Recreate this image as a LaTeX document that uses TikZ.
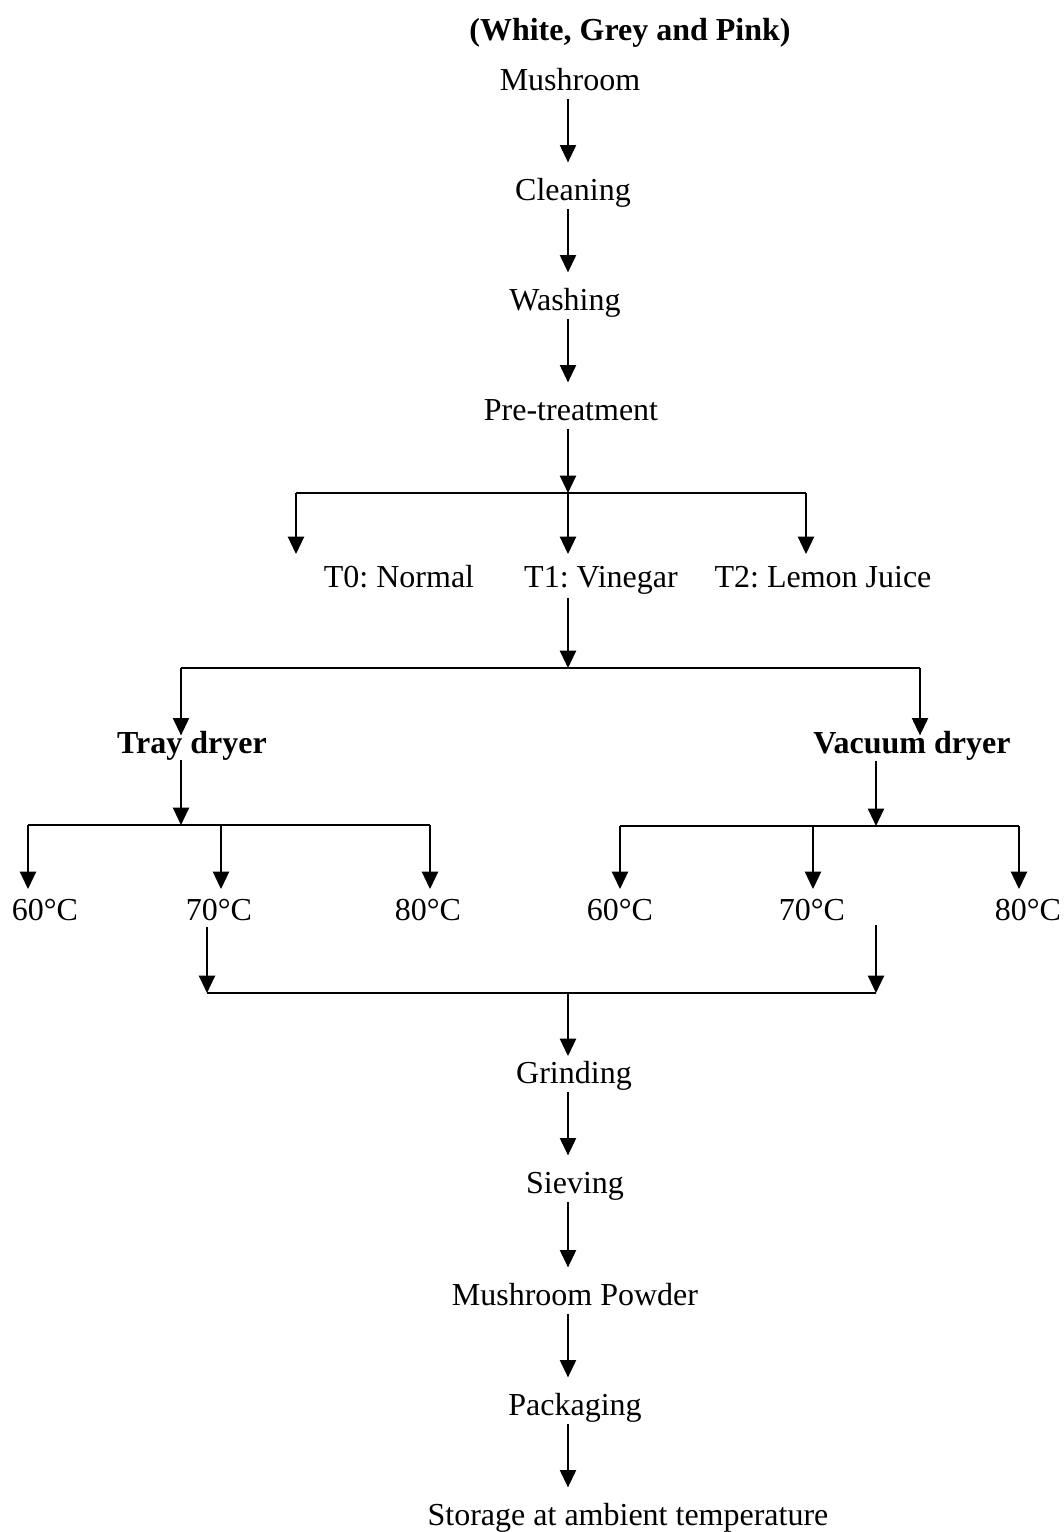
\documentclass[tikz,border=0pt]{standalone}
\usepackage{fontspec}
\setmainfont{Liberation Serif}
\usetikzlibrary{arrows.meta}
\frenchspacing
\begin{document}
\begin{tikzpicture}[x=0.75pt,y=-0.75pt,
  lbl/.style={anchor=base,inner sep=0pt,text height=17pt,text depth=5pt,font=\fontsize{24}{28}\selectfont},
  blbl/.style={lbl,font=\fontsize{24}{28}\selectfont\bfseries},
  ln/.style={line width=1.6pt},
  arr/.style={ln,-{Triangle[length=13pt,width=12pt]}},
  sp/.style={arr,shorten <=1.5pt,shorten >=11pt}]
\useasboundingbox (0,0) rectangle (1064,1532);
% text nodes
\node[blbl] (title) at (630,40) {(White, Grey and Pink)};
\node[lbl] (mush) at (570,90) {Mushroom};
\node[lbl] (clean) at (573,200) {Cleaning};
\node[lbl] (wash) at (565,310) {Washing};
\node[lbl] (pre) at (571,420) {Pre-treatment};
\node[lbl] (t0) at (399,587) {T0: Normal};
\node[lbl] (t1) at (601,587) {T1: Vinegar};
\node[lbl] (t2) at (823,587) {T2: Lemon Juice};
\node[blbl] (tray) at (192,753) {Tray dryer};
\node[blbl] (vac) at (912,753) {Vacuum dryer};
\node[lbl] (ta) at (45,920) {60°C};
\node[lbl] (tb) at (219,920) {70°C};
\node[lbl] (tc) at (428,920) {80°C};
\node[lbl] (va) at (620,920) {60°C};
\node[lbl] (vb) at (812,920) {70°C};
\node[lbl] (vc) at (1028,920) {80°C};
\node[lbl] (grind) at (574,1083) {Grinding};
\node[lbl] (sieve) at (575,1193) {Sieving};
\node[lbl] (powder) at (575,1305) {Mushroom Powder};
\node[lbl] (pack) at (575,1415) {Packaging};
\node[lbl] (store) at (628,1525) {Storage at ambient temperature};
% coordinates
\coordinate (s) at (568,0);
\coordinate (j1) at (568,493);
\coordinate (j1l) at (296,493);
\coordinate (j1r) at (806,493);
\coordinate (j2) at (568,668);
\coordinate (j2l) at (181,668);
\coordinate (j2r) at (920,668);
\coordinate (j3) at (181,825);
\coordinate (j3l) at (28,825);
\coordinate (j3m) at (221,825);
\coordinate (j3r) at (430,825);
\coordinate (j4) at (876,826);
\coordinate (j4l) at (620,826);
\coordinate (j4m) at (813,826);
\coordinate (j4r) at (1019,826);
\coordinate (j5l) at (207,993);
\coordinate (j5r) at (876,993);
\coordinate (j5) at (568,993);
\coordinate (vfree) at (876,925);
% spine
\draw[sp] (mush.south -| s) -- (clean.north -| s);
\draw[sp] (clean.south -| s) -- (wash.north -| s);
\draw[sp] (wash.south -| s) -- (pre.north -| s);
\draw[arr,shorten <=1.5pt] (pre.south -| s) -- (j1);
\draw[ln] (j1l) -- (j1r);
\draw[arr,shorten >=7.5pt] (j1l) -- (j1l |- t0.north);
\draw[arr,shorten >=7.5pt] (j1) -- (j1 |- t1.north);
\draw[arr,shorten >=7.5pt] (j1r) -- (j1r |- t2.north);
\draw[arr,shorten <=3pt] (t1.south -| s) -- (j2);
\draw[ln] (j2l) -- (j2r);
\draw[arr,shorten >=-4pt] (j2l) -- (j2l |- tray.north);
\draw[arr,shorten >=-4pt] (j2r) -- (j2r |- vac.north);
\draw[arr,shorten <=0pt] (tray.south -| j3) -- (j3);
\draw[ln] (j3l) -- (j3r);
\draw[arr,shorten >=6pt] (j3l) -- (j3l |- ta.north);
\draw[arr,shorten >=6pt] (j3m) -- (j3m |- tb.north);
\draw[arr,shorten >=6pt] (j3r) -- (j3r |- tc.north);
\draw[arr,shorten <=1pt] (vac.south -| j4) -- (j4);
\draw[ln] (j4l) -- (j4r);
\draw[arr,shorten >=6pt] (j4l) -- (j4l |- va.north);
\draw[arr,shorten >=6pt] (j4m) -- (j4m |- vb.north);
\draw[arr,shorten >=6pt] (j4r) -- (j4r |- vc.north);
\draw[arr] (tb.south -| j5l) -- (j5l);
\draw[arr] (vfree) -- (j5r);
\draw[ln] (j5l) -- (j5r);
\draw[arr,shorten >=3pt] (j5) -- (grind.north -| s);
\draw[sp] (grind.south -| s) -- (sieve.north -| s);
\draw[sp] (sieve.south -| s) -- (powder.north -| s);
\draw[sp] (powder.south -| s) -- (pack.north -| s);
\draw[sp] (pack.south -| s) -- (store.north -| s);
\end{tikzpicture}
\end{document}
